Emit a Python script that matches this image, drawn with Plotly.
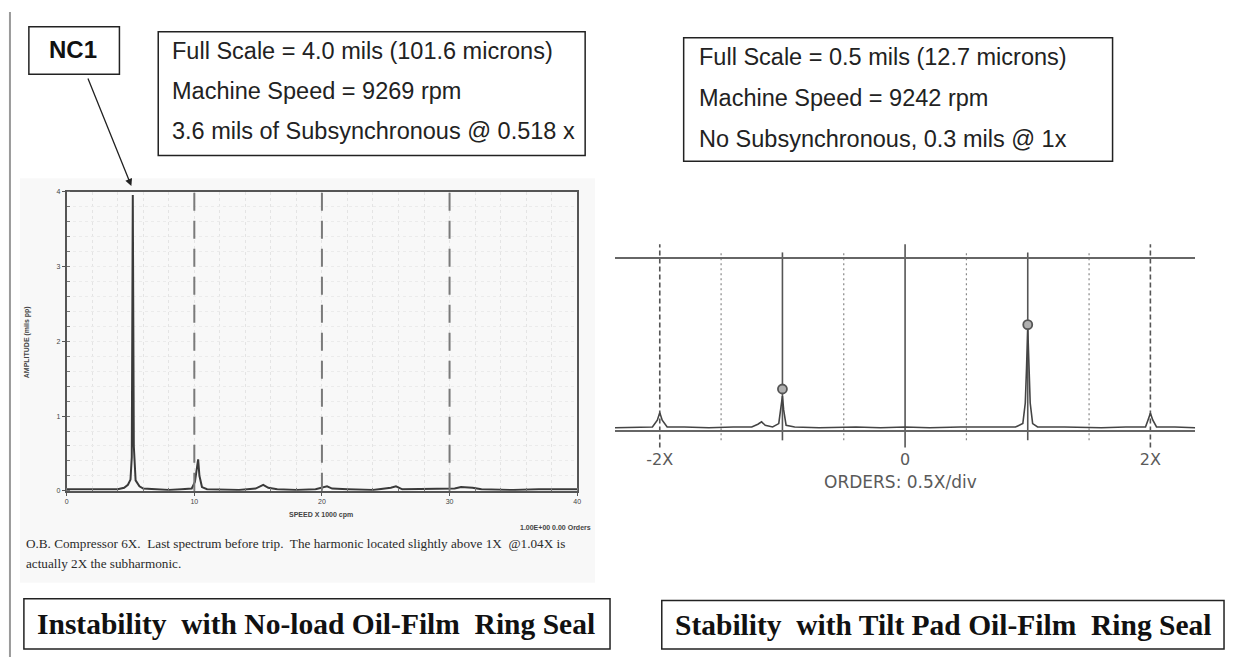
import plotly.graph_objects as go

# Left: NC1 spectrum, no-load oil-film ring seal (x = speed x1000 cpm, y = mils pp)
speed_krpm = [0.0, 1.0, 2.0, 3.0, 4.0, 4.5, 4.8, 5.0, 5.1, 5.18, 5.26, 5.4, 5.7, 6.0,
              7.0, 8.0, 9.0, 9.8, 10.05, 10.2, 10.3, 10.4, 10.6, 11.0, 12.0, 13.5,
              14.8, 15.4, 15.8, 16.5, 18.0, 19.5, 20.4, 20.8, 22.0, 24.0, 25.4, 25.8,
              26.3, 28.0, 30.4, 30.9, 31.8, 32.5, 35.0, 37.0, 40.0]
amp_left = [0.02, 0.02, 0.01, 0.02, 0.02, 0.04, 0.08, 0.15, 0.45, 3.96, 0.6, 0.14, 0.06, 0.03,
            0.02, 0.01, 0.02, 0.03, 0.12, 0.3, 0.42, 0.2, 0.05, 0.02, 0.02, 0.01,
            0.03, 0.08, 0.04, 0.02, 0.01, 0.02, 0.06, 0.03, 0.02, 0.01, 0.04, 0.06,
            0.02, 0.02, 0.03, 0.05, 0.04, 0.02, 0.01, 0.02, 0.02]
left_xticks = [0, 10, 20, 30, 40]
left_yticks = [0, 1, 2, 3, 4]
left_dashed = [10, 20, 30]

# Right: full spectrum, tilt pad oil-film ring seal (x = orders, y = mils)
orders = [-2.365, -2.2, -2.06, -2.02, -2.0, -1.98, -1.94, -1.8, -1.6, -1.4, -1.25, -1.2,
          -1.17, -1.14, -1.08, -1.03, -1.01, -1.0, -0.99, -0.97, -0.9, -0.7, -0.4, -0.2,
          0.0, 0.2, 0.45, 0.7, 0.9, 0.96, 0.98, 0.99, 1.0, 1.01, 1.02, 1.04, 1.08, 1.3,
          1.6, 1.8, 1.96, 1.98, 2.0, 2.02, 2.05, 2.2, 2.365]
amp_right = [0.008, 0.01, 0.01, 0.03, 0.052, 0.03, 0.01, 0.01, 0.008, 0.01, 0.01, 0.018,
             0.025, 0.015, 0.01, 0.02, 0.07, 0.1, 0.06, 0.015, 0.01, 0.008, 0.01, 0.008,
             0.01, 0.008, 0.01, 0.01, 0.01, 0.02, 0.08, 0.18, 0.3, 0.19, 0.08, 0.02, 0.01, 0.01,
             0.008, 0.01, 0.01, 0.03, 0.05, 0.03, 0.01, 0.01, 0.008]
peak_orders = [-1, 1]
peak_amps = [0.121, 0.309]
order_ticks = [-2, 0, 2]
order_labels = ["-2X", "0", "2X"]
order_lines = [-2, -1.5, -1, -0.5, 0, 0.5, 1, 1.5, 2]

W, H = 1233, 660


def px(x):
    return x / W


def py(y):
    return 1 - y / H


fig = go.Figure()

fig.add_trace(go.Scatter(x=speed_krpm, y=amp_left, mode="lines",
                         line=dict(color="#3a3a3a", width=2),
                         xaxis="x", yaxis="y", showlegend=False))

fig.add_trace(go.Scatter(x=orders, y=amp_right, mode="lines",
                         line=dict(color="#444444", width=1.6),
                         xaxis="x2", yaxis="y2", showlegend=False))
fig.add_trace(go.Scatter(x=peak_orders, y=peak_amps, mode="markers",
                         marker=dict(symbol="circle", size=9, color="#b0b0b0",
                                     line=dict(width=1.8, color="#555555")),
                         xaxis="x2", yaxis="y2", showlegend=False))

shapes = []
# page border on the left
shapes.append(dict(type="line", xref="paper", yref="paper", x0=px(8), x1=px(8), y0=0, y1=py(8),
                   line=dict(color="#9a9a9a", width=2)))
# scanned image background for left chart
shapes.append(dict(type="rect", xref="paper", yref="paper", x0=px(18), x1=px(596),
                   y0=py(585), y1=py(176), fillcolor="#f8f8f8", line=dict(width=0), layer="below"))
# dashed verticals in left chart
for v in left_dashed:
    shapes.append(dict(type="line", xref="x", yref="y domain", x0=v, x1=v, y0=0, y1=1,
                       line=dict(color="#7a7a7a", width=2, dash="18px,10px"), layer="above"))
# vertical division lines in right chart
for v in order_lines:
    if v in (-2, 2):
        st = dict(dash="5px,3px", y0=-0.1, y1=1.087)
    elif v == 0:
        st = dict(dash="solid", y0=-0.1, y1=1.087)
    elif abs(v) == 1:
        st = dict(dash="solid", y0=-0.058, y1=1.04)
    else:
        st = dict(dash="2px,3px", y0=-0.058, y1=1.04)
    dotted = st["dash"] == "2px,3px"
    shapes.append(dict(type="line", xref="x2", yref="y2 domain", x0=v, x1=v,
                       y0=st["y0"], y1=st["y1"], layer="below",
                       line=dict(color="#888888" if dotted else "#555555",
                                 width=1.2 if dotted else 1.6, dash=st["dash"])))

# text boxes
boxes = [(27, 23, 118, 71), (157, 28, 586, 153), (685, 34, 1116, 159),
         (22, 601, 611, 652), (663, 603, 1228, 652)]
for x0, y0, x1, y1 in boxes:
    shapes.append(dict(type="rect", xref="paper", yref="paper", x0=px(x0), x1=px(x1),
                       y0=py(y1), y1=py(y0), line=dict(color="#222222", width=1.5),
                       fillcolor="white"))

ann = []
sans = "Liberation Sans, Arial, sans-serif"
serif = "Liberation Serif, Times New Roman, serif"
wide = "DejaVu Sans, Verdana, sans-serif"


def txt(x, y, s, size, font=sans, color="#222222", xanchor="left", bold=False, angle=0):
    if bold:
        s = "<b>" + s + "</b>"
    ann.append(dict(x=px(x), y=py(y), xref="paper", yref="paper", text=s, showarrow=False,
                    xanchor=xanchor, yanchor="middle", textangle=angle,
                    font=dict(family=font, size=size, color=color)))


txt(71, 46, "NC1", 24, bold=True, xanchor="center", color="#111111")
txt(169, 48, "Full Scale = 4.0 mils (101.6 microns)", 23.5)
txt(169, 88, "Machine Speed = 9269 rpm", 23.5)
txt(169, 128, "3.6 mils of Subsynchronous @ 0.518 x", 23.5)
txt(698, 54, "Full Scale = 0.5 mils (12.7 microns)", 23.5)
txt(698, 95, "Machine Speed = 9242 rpm", 23.5)
txt(698, 136, "No Subsynchronous, 0.3 mils @ 1x", 23.5)

txt(316, 627, "Instability  with No-load Oil-Film  Ring Seal", 29.5, font=serif, bold=True,
    xanchor="center", color="#111111")
txt(946, 628, "Stability  with Tilt Pad Oil-Film  Ring Seal", 29.5, font=serif, bold=True,
    xanchor="center", color="#111111")

# left chart small print
txt(22, 545, "O.B. Compressor 6X.  Last spectrum before trip.  The harmonic located slightly above 1X  @1.04X is",
    13.2, font=serif, color="#2a2a2a")
txt(22, 565, "actually 2X the subharmonic.", 13.2, font=serif, color="#2a2a2a")
txt(321, 516, "SPEED X 1000 cpm", 7, bold=True, xanchor="center", color="#444444")
txt(556, 529, "1.00E+00 0.00 Orders", 7, bold=True, xanchor="center", color="#444444")
txt(25, 342, "AMPLITUDE (mils pp)", 7, bold=True, xanchor="center", color="#444444", angle=-90)

# right chart axis title
txt(903, 483, "ORDERS: 0.5X/div", 17, font=wide, color="#5a5a5a", xanchor="center")

# arrow from NC1 to the subsynchronous peak
ann.append(dict(x=px(130), y=py(184), xref="paper", yref="paper", text="", showarrow=True,
                ax=-44, ay=-109, arrowhead=2, arrowsize=1.1, arrowwidth=1.3,
                arrowcolor="#222222"))

fig.update_layout(
    width=W, height=H, margin=dict(l=0, r=0, t=0, b=0),
    paper_bgcolor="white", plot_bgcolor="rgba(0,0,0,0)",
    shapes=shapes, annotations=ann,
    xaxis=dict(domain=[px(65), px(578)], range=[0, 40], tickvals=left_xticks,
               showline=True, linecolor="#555555", linewidth=2, mirror=True,
               showgrid=False, zeroline=False, ticks="outside", ticklen=3,
               tickcolor="#555555", tickfont=dict(size=7, color="#444444", family=sans),
               minor=dict(dtick=2, showgrid=True, gridcolor="#e4e4e4", griddash="dot",
                          gridwidth=1, ticks="inside", ticklen=3, tickcolor="#777777")),
    yaxis=dict(domain=[py(492), py(190)], range=[0, 4], tickvals=left_yticks,
               showline=True, linecolor="#555555", linewidth=2, mirror=True,
               showgrid=False, zeroline=False, ticks="outside", ticklen=3,
               tickcolor="#555555", tickfont=dict(size=7, color="#444444", family=sans),
               minor=dict(dtick=0.2, showgrid=True, gridcolor="#ebebeb", griddash="dot",
                          gridwidth=1, ticks="inside", ticklen=3, tickcolor="#777777")),
    xaxis2=dict(domain=[px(616), px(1199)], range=[-2.365, 2.365], tickvals=order_ticks,
                ticktext=order_labels, showline=True, linecolor="#666666", linewidth=2,
                mirror=True, showgrid=False, zeroline=False, ticks="outside", ticklen=13,
                tickcolor="rgba(0,0,0,0)", anchor="y2",
                tickfont=dict(size=16, color="#5a5a5a", family=wide)),
    yaxis2=dict(domain=[py(431), py(258)], range=[0, 0.5], anchor="x2",
                showline=False, showgrid=False, zeroline=False, showticklabels=False),
)

# the page body has a default 8px margin; drop it so the figure fills the window
fig.write_html("out.html", config={"displayModeBar": False},
               post_script="document.body.style.margin = '0';")
